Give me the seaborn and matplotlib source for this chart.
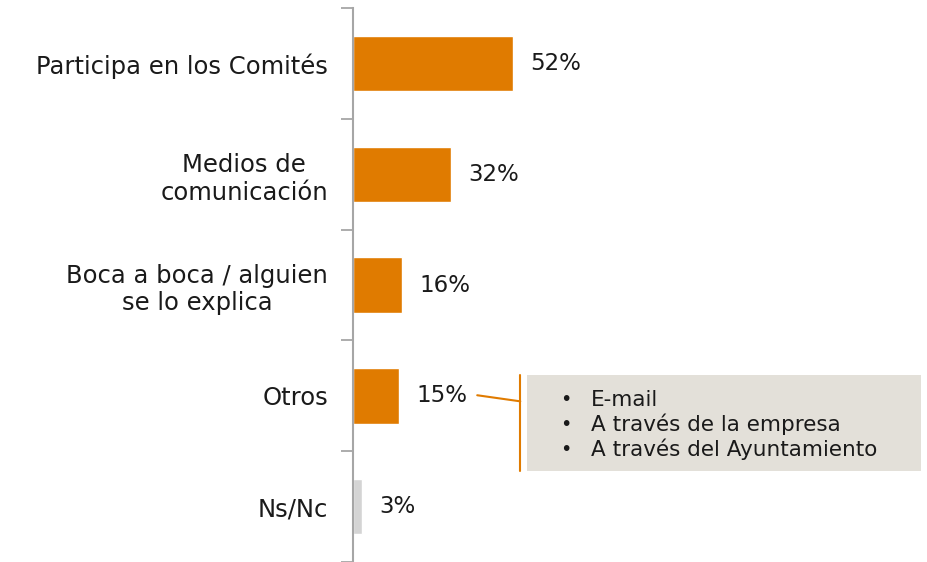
import matplotlib
matplotlib.use("Agg")
import matplotlib.pyplot as plt
import seaborn as sns
import pandas as pd
from matplotlib.patches import Rectangle

# =========================
# DATA
# =========================

categories = [
    "Participa en los Comités",
    "Medios de\ncomunicación",
    "Boca a boca / alguien\nse lo explica",
    "Otros",
    "Ns/Nc",
]
values = [52, 32, 16, 15, 3]
value_labels = ["52%", "32%", "16%", "15%", "3%"]
bar_colors = ["#E07B00", "#E07B00", "#E07B00", "#E07B00", "#D4D4D4"]
otros_items = ["E-mail", "A través de la empresa", "A través del Ayuntamiento"]

df = pd.DataFrame({"categoria": categories, "valor": values})

# =========================
# FIGURE
# =========================

sns.set_style("white")
plt.rcParams["font.family"] = ["DejaVu Sans"]

fig = plt.figure(figsize=(9.28, 5.62), dpi=100)
ax = fig.add_axes([353 / 928, 0, 1 - 353 / 928, 1 - 8 / 562])

sns.barplot(
    data=df,
    x="valor",
    y="categoria",
    hue="categoria",
    palette=bar_colors,
    orient="h",
    width=0.5,
    legend=False,
    saturation=1,
    ax=ax,
)

ax.set_xlim(0, 187)
ax.set_ylim(len(categories) - 0.5, -0.5)
ax.set_xlabel("")
ax.set_ylabel("")
ax.set_xticks([])

# boundary ticks, labels at the centers
ax.set_yticks([i - 0.5 for i in range(len(categories) + 1)])
ax.set_yticklabels([])
ax.set_yticks(range(len(categories)), categories, minor=True)
ax.tick_params(axis="y", which="major", left=True, length=9, width=1.3,
               color="#A6A6A6", direction="out")
ax.tick_params(axis="y", which="minor", left=True, length=0, pad=18,
               labelsize=17.5, labelcolor="#1a1a1a")
for lbl in ax.get_yticklabels(minor=True):
    lbl.set_multialignment("center")

for side in ["top", "right", "bottom"]:
    ax.spines[side].set_visible(False)
ax.spines["left"].set_color("#A6A6A6")
ax.spines["left"].set_linewidth(1.5)

# value labels
for i, (v, txt) in enumerate(zip(values, value_labels)):
    ax.text(v + 5.5, i, txt, va="center", ha="left", fontsize=16.5, color="#1a1a1a")

# =========================
# OTROS DETAIL BOX
# =========================

box_x0, box_x1 = 56.7, 184.7
box_y0, box_y1 = 2.815, 3.68
ax.add_patch(Rectangle((box_x0, box_y0), box_x1 - box_x0, box_y1 - box_y0,
                       facecolor="#E3E0D9", edgecolor="none", clip_on=False))
ax.plot([54.4, 54.4], [box_y0, box_y1], color="#E07B00", lw=1.5, clip_on=False)
ax.plot([40.4, 54.4], [2.995, 3.05], color="#E07B00", lw=1.5, clip_on=False)

for j, item in enumerate(otros_items):
    y = 3.035 + j * 0.225
    ax.text(67.5, y, "•", va="center", ha="left", fontsize=14, color="#1a1a1a")
    ax.text(77.5, y, item, va="center", ha="left", fontsize=15.5, color="#1a1a1a")

fig.savefig("out.png", dpi=100)
